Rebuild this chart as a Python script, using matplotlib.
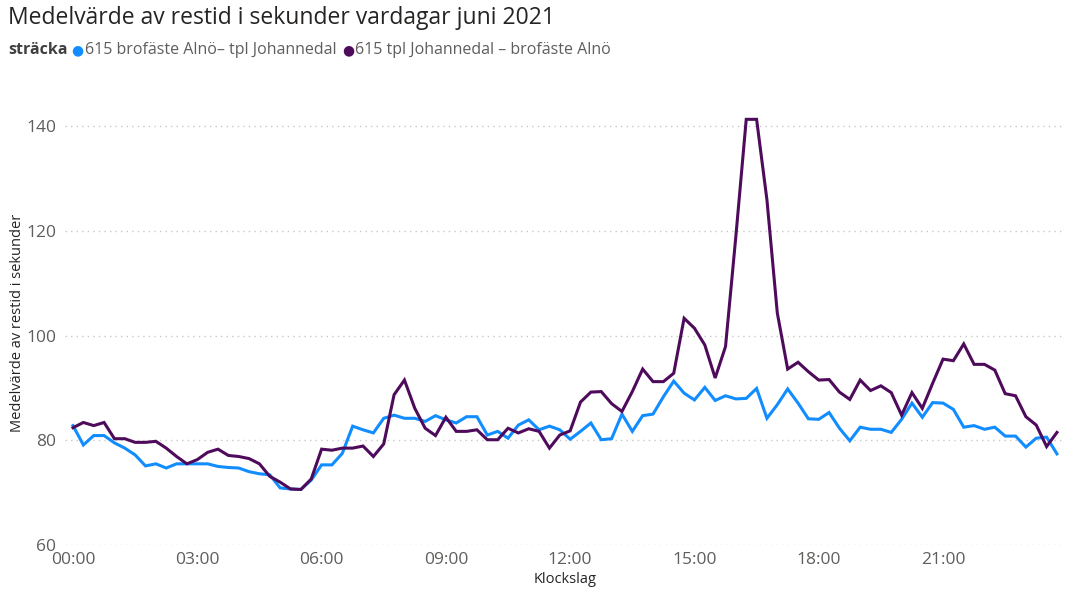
import matplotlib
matplotlib.use('Agg')
import matplotlib.pyplot as plt
import numpy as np

# 15-minute slots, 00:00 .. 23:45
alno_johannedal = [82.8, 79.1, 80.9, 80.9, 79.5, 78.5, 77.2, 75.1, 75.5, 74.7, 75.5, 75.5,
                   75.5, 75.5, 75.0, 74.8, 74.7, 74.0, 73.6, 73.4, 70.9, 70.7, 70.6, 72.4,
                   75.3, 75.3, 77.5, 82.7, 82.0, 81.4, 84.2, 84.8, 84.2, 84.2, 83.6, 84.7,
                   83.9, 83.3, 84.5, 84.5, 81.0, 81.7, 80.4, 82.9, 83.9, 82.0, 82.7, 82.0,
                   80.2, 81.7, 83.3, 80.1, 80.3, 85.0, 81.7, 84.7, 85.0, 88.3, 91.3, 89.0,
                   87.7, 90.1, 87.6, 88.5, 87.9, 88.0, 89.9, 84.2, 86.8, 89.8, 87.1, 84.1,
                   84.0, 85.3, 82.3, 79.9, 82.5, 82.1, 82.1, 81.5, 84.0, 87.1, 84.4, 87.2,
                   87.1, 85.9, 82.5, 82.8, 82.1, 82.5, 80.8, 80.8, 78.7, 80.4, 80.6, 77.4]
johannedal_alno = [82.4, 83.4, 82.8, 83.4, 80.3, 80.3, 79.6, 79.6, 79.8, 78.5, 76.9, 75.5,
                   76.3, 77.7, 78.3, 77.1, 76.9, 76.5, 75.5, 73.1, 72.0, 70.7, 70.6, 72.6,
                   78.3, 78.1, 78.5, 78.5, 78.9, 76.9, 79.3, 88.7, 91.5, 86.1, 82.3, 80.9,
                   84.4, 81.7, 81.7, 82.0, 80.1, 80.1, 82.3, 81.4, 82.2, 81.7, 78.5, 81.0,
                   81.8, 87.3, 89.2, 89.3, 87.0, 85.5, 89.3, 93.6, 91.2, 91.2, 92.8, 103.3,
                   101.4, 98.2, 91.9, 97.9, 119.0, 141.3, 141.3, 125.9, 104.3, 93.6, 94.9, 93.1,
                   91.5, 91.6, 89.2, 87.8, 91.5, 89.5, 90.4, 89.1, 84.8, 89.1, 86.1, 90.9,
                   95.5, 95.2, 98.4, 94.5, 94.5, 93.4, 88.9, 88.5, 84.5, 82.9, 78.8, 81.5]
tick_labels = ['00:00', '03:00', '06:00', '09:00', '12:00', '15:00', '18:00', '21:00']
series_names = ['615 brofäste Alnö– tpl Johannedal', '615 tpl Johannedal – brofäste Alnö']
colors = ['#118DFF', '#4F0B5B']

plt.rcParams['font.family'] = ['Open Sans', 'DejaVu Sans']

fig = plt.figure(figsize=(10.84, 6), dpi=100)
ax = fig.add_axes([0.0597, 0.0917, 0.923, 0.7417])

x = np.arange(len(alno_johannedal))
ax.plot(x, alno_johannedal, color=colors[0], lw=2.2, solid_joinstyle='miter')
ax.plot(x, johannedal_alno, color=colors[1], lw=2.2, solid_joinstyle='miter')

ax.set_xlim(-0.8, 95.8)
ax.set_ylim(60, 145)
ax.set_yticks([60, 80, 100, 120, 140])
ax.set_xticks(np.arange(0, 96, 12))
ax.set_xticklabels(tick_labels)
ax.tick_params(axis='both', length=0, labelsize=12.5, labelcolor='#605E5C')
ax.tick_params(axis='x', pad=5)
ax.tick_params(axis='y', pad=6)
ax.grid(axis='y', linestyle=(0, (1, 3)), color='#C8C8C8', lw=1)
for s in ax.spines.values():
    s.set_visible(False)

ax.set_xlabel('Klockslag', fontsize=10.5, color='#252423', labelpad=3)
ax.set_ylabel('Medelvärde av restid i sekunder', fontsize=10.5, color='#252423', labelpad=1)

fig.text(8 / 1084, 1 - 18 / 600, 'Medelvärde av restid i sekunder vardagar juni 2021',
         fontsize=16.5, color='#252423', va='center', ha='left')

# legend row
fig.canvas.draw()
r = fig.canvas.get_renderer()
ly = 1 - 50 / 600
t = fig.text(8 / 1084, ly, 'sträcka', fontsize=11.5, fontweight='bold', color='#404040', va='center')
xpos = t.get_window_extent(r).x1 + 4
for name, c in zip(series_names, colors):
    d = fig.text(xpos / 1084, ly, '●', fontsize=10, color=c, va='center', family='DejaVu Sans')
    xpos = d.get_window_extent(r).x1 + 1
    lt = fig.text(xpos / 1084, ly, name, fontsize=11.5, color='#605E5C', va='center')
    xpos = lt.get_window_extent(r).x1 + 6

fig.savefig('out.png', dpi=100)
